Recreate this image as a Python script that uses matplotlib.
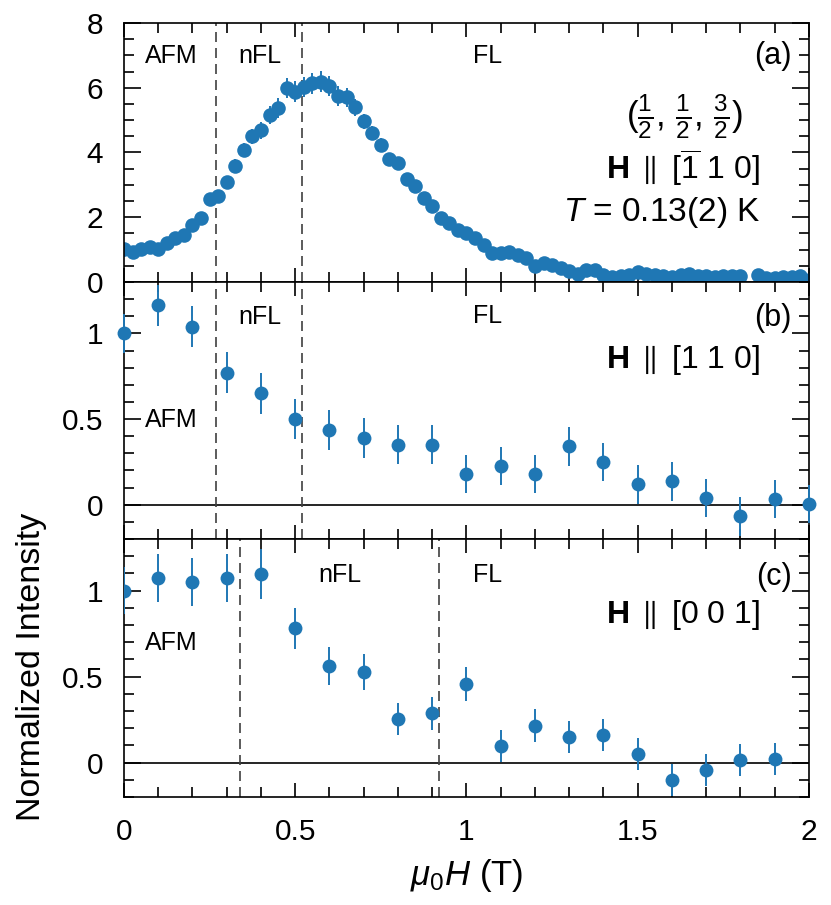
import numpy as np
import matplotlib
matplotlib.use('Agg')
import matplotlib.pyplot as plt
from matplotlib.ticker import MultipleLocator, FuncFormatter

plt.rcParams['font.family'] = ['Liberation Sans', 'DejaVu Sans']
plt.rcParams['mathtext.fontset'] = 'custom'
plt.rcParams['mathtext.rm'] = 'Liberation Sans'
plt.rcParams['mathtext.it'] = 'Liberation Sans:italic'
plt.rcParams['mathtext.bf'] = 'Liberation Sans:bold'

blue = '#1f77b4'

# panel (a): H || [-1 1 0], fine field scan (0.025 T steps, point at 1.825 T missing)
field_a = np.delete(np.linspace(0, 2, 81), 73)
int_a = [1.01, 0.93, 1.03, 1.09, 1.01, 1.20, 1.35, 1.45, 1.77, 1.97,
         2.55, 2.66, 3.08, 3.59, 4.08, 4.50, 4.68, 5.15, 5.38, 5.99,
         5.88, 6.02, 6.14, 6.19, 6.05, 5.74, 5.70, 5.39, 4.96, 4.60,
         4.24, 3.79, 3.67, 3.18, 2.97, 2.58, 2.36, 1.99, 1.82, 1.61,
         1.51, 1.35, 1.15, 0.89, 0.91, 0.92, 0.84, 0.73, 0.50, 0.58,
         0.52, 0.43, 0.33, 0.24, 0.37, 0.36, 0.22, 0.14, 0.20, 0.22,
         0.30, 0.24, 0.22, 0.20, 0.15, 0.22, 0.25, 0.20, 0.17, 0.15,
         0.17, 0.18, 0.20, 0.23, 0.12, 0.12, 0.15, 0.15, 0.17, 0.05]
err_a = [0.10, 0.10, 0.10, 0.10, 0.10, 0.10, 0.12, 0.12, 0.14, 0.14,
         0.16, 0.16, 0.18, 0.20, 0.22, 0.24, 0.26, 0.28, 0.30, 0.30,
         0.32, 0.32, 0.32, 0.32, 0.30, 0.30, 0.28, 0.26, 0.24, 0.22,
         0.20, 0.18, 0.18, 0.16, 0.16, 0.14, 0.14, 0.12, 0.12, 0.12,
         0.12, 0.10, 0.10, 0.10, 0.10, 0.10, 0.10, 0.10, 0.10, 0.10,
         0.10, 0.10, 0.10, 0.10, 0.10, 0.10, 0.10, 0.10, 0.10, 0.10,
         0.10, 0.10, 0.10, 0.10, 0.10, 0.10, 0.10, 0.10, 0.10, 0.10,
         0.10, 0.10, 0.10, 0.10, 0.10, 0.10, 0.10, 0.10, 0.10, 0.10]

# panel (b): H || [1 1 0]
field_b = [0.0, 0.1, 0.2, 0.3, 0.4, 0.5, 0.6, 0.7, 0.8, 0.9, 1.0,
           1.1, 1.2, 1.3, 1.4, 1.5, 1.6, 1.7, 1.8, 1.9, 2.0]
int_b = [1.00, 1.165, 1.04, 0.77, 0.65, 0.50, 0.435, 0.39, 0.35, 0.35, 0.18,
         0.226, 0.18, 0.34, 0.25, 0.12, 0.137, 0.04, -0.068, 0.035, 0.004]
err_b = [0.115, 0.12, 0.12, 0.12, 0.118, 0.116, 0.116, 0.115, 0.115, 0.115, 0.113,
         0.113, 0.113, 0.113, 0.113, 0.113, 0.113, 0.112, 0.112, 0.112, 0.112]

# panel (c): H || [0 0 1]
field_c = [0.0, 0.1, 0.2, 0.3, 0.4, 0.5, 0.6, 0.7, 0.8, 0.9,
           1.0, 1.1, 1.2, 1.3, 1.4, 1.5, 1.6, 1.7, 1.8, 1.9]
int_c = [1.00, 1.074, 1.05, 1.074, 1.097, 0.78, 0.563, 0.528, 0.254, 0.287,
         0.458, 0.097, 0.214, 0.148, 0.161, 0.049, -0.10, -0.043, 0.016, 0.023]
err_c = [0.135, 0.14, 0.14, 0.14, 0.143, 0.12, 0.11, 0.105, 0.095, 0.095,
         0.10, 0.095, 0.095, 0.093, 0.093, 0.093, 0.093, 0.093, 0.093, 0.093]

# phase boundaries (T)
bounds_ab = [0.27, 0.52]
bounds_c = [0.34, 0.92]

fig = plt.figure(figsize=(8.31, 9.05), dpi=100)
ax_a = fig.add_axes([0.1492, 0.6884, 0.8243, 0.2862])
ax_b = fig.add_axes([0.1492, 0.4044, 0.8243, 0.2840])
ax_c = fig.add_axes([0.1492, 0.1193, 0.8243, 0.2851])


def num_fmt(v, pos):
    return ('%g' % round(v, 3))


for ax in (ax_a, ax_b, ax_c):
    ax.set_xlim(0, 2)
    ax.xaxis.set_major_locator(MultipleLocator(0.5))
    ax.xaxis.set_minor_locator(MultipleLocator(0.1))
    ax.xaxis.set_major_formatter(FuncFormatter(num_fmt))
    ax.yaxis.set_major_formatter(FuncFormatter(num_fmt))
    ax.tick_params(which='both', direction='in', top=True, right=True,
                   width=1.2, labelsize=21.5)
    ax.tick_params(axis='y', which='major', length=12, pad=15)
    ax.tick_params(axis='y', which='minor', length=7)
    ax.tick_params(axis='x', which='major', length=10, pad=15)
    ax.tick_params(axis='x', which='minor', length=7)
    for sp in ax.spines.values():
        sp.set_linewidth(1.2)

ax_a.tick_params(labelbottom=False)
ax_b.tick_params(labelbottom=False)

# panel a
ax_a.set_ylim(0, 8)
ax_a.yaxis.set_major_locator(MultipleLocator(2))
ax_a.yaxis.set_minor_locator(MultipleLocator(0.5))
ax_a.errorbar(field_a, int_a, yerr=err_a, fmt='o', color=blue, ms=10.5,
              mew=0, elinewidth=1.4, capsize=0)

# panels b, c
for ax in (ax_b, ax_c):
    ax.set_ylim(-0.2, 1.3)
    ax.yaxis.set_major_locator(MultipleLocator(0.5))
    ax.yaxis.set_minor_locator(MultipleLocator(0.1))
    ax.axhline(0, color='k', lw=1.2, zorder=1)

ax_b.errorbar(field_b, int_b, yerr=err_b, fmt='o', color=blue, ms=10,
              mew=0, elinewidth=1.4, capsize=0, clip_on=False, zorder=3)
ax_c.errorbar(field_c, int_c, yerr=err_c, fmt='o', color=blue, ms=10,
              mew=0, elinewidth=1.4, capsize=0, zorder=3)

for ax, bnds in ((ax_a, bounds_ab), (ax_b, bounds_ab), (ax_c, bounds_c)):
    for b in bnds:
        ax.axvline(b, color='#404040', lw=1.2, ls=(0, (6, 3.6)), zorder=1)

# labels, panel a
ax_a.text(0.061, 6.98, 'AFM', fontsize=18, va='center')
ax_a.text(0.333, 6.98, 'nFL', fontsize=18, va='center')
ax_a.text(1.019, 6.98, 'FL', fontsize=18, va='center')
ax_a.text(1.95, 6.98, '(a)', fontsize=22, va='center', ha='right')
ax_a.text(1.638, 5.12, r'$(\frac{1}{2},\,\frac{1}{2},\,\frac{3}{2})$',
          fontsize=25, va='center', ha='center')
ax_a.text(1.857, 3.53, r'$\mathbf{H}\;\parallel\;[\overline{1}\ 1\ 0]$',
          fontsize=23, va='center', ha='right')
ax_a.text(1.857, 2.14, r'$T$ = 0.13(2) K', fontsize=24, va='center', ha='right')

# panel b
ax_b.text(0.333, 1.095, 'nFL', fontsize=18, va='center')
ax_b.text(0.061, 0.497, 'AFM', fontsize=18, va='center')
ax_b.text(1.019, 1.1, 'FL', fontsize=18, va='center')
ax_b.text(1.95, 1.089, '(b)', fontsize=22, va='center', ha='right')
ax_b.text(1.857, 0.845, r'$\mathbf{H}\;\parallel\;[1\ 1\ 0]$',
          fontsize=23, va='center', ha='right')

# panel c
ax_c.text(0.566, 1.093, 'nFL', fontsize=18, va='center')
ax_c.text(0.061, 0.697, 'AFM', fontsize=18, va='center')
ax_c.text(1.019, 1.093, 'FL', fontsize=18, va='center')
ax_c.text(1.95, 1.082, '(c)', fontsize=22, va='center', ha='right')
ax_c.text(1.857, 0.86, r'$\mathbf{H}\;\parallel\;[0\ 0\ 1]$',
          fontsize=23, va='center', ha='right')

ax_c.set_xlabel(r'$\mu_{\mathrm{0}}H$ (T)', fontsize=25, labelpad=8)
fig.text(32 / 831, 1 - 667 / 905, 'Normalized Intensity', fontsize=24.5,
         rotation=90, va='center', ha='center')

fig.savefig('out.png', dpi=100)
